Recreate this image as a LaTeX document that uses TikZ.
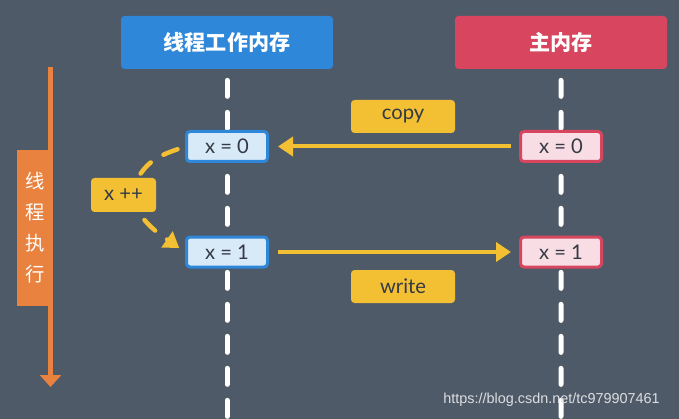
\documentclass[tikz,border=0pt]{standalone}
\usepackage{fontspec}
\setmainfont{Noto Sans CJK SC}
\newfontfamily\latinfont{Lato}
\newfontfamily\markfont{Liberation Sans}
\usetikzlibrary{arrows.meta,calc,positioning,backgrounds}
\definecolor{slate}{HTML}{4F5A69}
\definecolor{memblue}{HTML}{2E87D8}
\definecolor{valblue}{HTML}{D8E9F8}
\definecolor{memred}{HTML}{D8455E}
\definecolor{valred}{HTML}{F8DEE4}
\definecolor{tagyellow}{HTML}{F3BF33}
\definecolor{runorange}{HTML}{E8823E}
\definecolor{ink}{HTML}{343A44}
\tikzstyle{head} = [rectangle, rounded corners=2pt, minimum height=1.06cm, minimum width=4.24cm,
	text=white, font=\fontsize{12}{14}\selectfont\bfseries]
\tikzstyle{wval} = [rectangle, rounded corners=2pt, draw=memblue, line width=0.06cm, fill=valblue,
	minimum height=0.6cm, minimum width=1.62cm, text=ink, font=\latinfont\fontsize{11.5}{13}\selectfont]
\tikzstyle{mval} = [wval, draw=memred, fill=valred]
\tikzstyle{tag} = [rectangle, rounded corners=2pt, fill=tagyellow, minimum height=0.66cm,
	minimum width=2.08cm, text=ink, font=\latinfont\fontsize{11.5}{13}\selectfont]
\tikzstyle{run} = [rectangle, fill=runorange, minimum height=3.12cm, minimum width=0.72cm,
	align=center, text=white, font=\fontsize{11}{17.6}\selectfont]
\tikzstyle{lifeline} = [white, line width=0.1cm, line cap=round, dash pattern=on 0.32cm off 0.32cm]
\tikzstyle{sync} = [tagyellow, line width=0.08cm]
\tikzstyle{incline} = [tagyellow, line width=0.09cm, line cap=round, dash pattern=on 0.3cm off 0.3cm]

\begin{document}
\begin{tikzpicture}[auto, node distance=2cm, >={Triangle[length=0.3cm,width=0.38cm]}]
	\useasboundingbox (0,0) rectangle (13.58,-8.38);
	\node [head, fill=memblue] (work) at (4.54,-0.85) {线程工作内存};
	\node [head, fill=memred, right of=work, xshift=4.68cm] (main) {主内存};
	\node [wval, below of=work, yshift=-0.08cm] (w0) {x = 0};
	\node [wval, below of=w0, yshift=-0.11cm] (w1) {x = 1};
	\node [mval, below of=main, yshift=-0.08cm] (m0) {x = 0};
	\node [mval, below of=m0, yshift=-0.11cm] (m1) {x = 1};
	\node [tag] (copy) at (8.06,-2.33) {copy};
	\node [tag, below of=copy, yshift=-1.4cm] (write) {write};
	\node [tag, minimum width=1.3cm, minimum height=0.68cm] (inc) at (2.47,-3.9) {x ++};
	\node [run] (thread) at (0.7,-4.56) {线\\程\\执\\行};
	\coordinate (flowtop) at (1.01,-1.34);
	\coordinate (flowend) at (1.01,-7.74);
	\coordinate (workend) at (4.54,-8.45);
	\coordinate (mainend) at (11.22,-8.45);

	\draw[sync, ->, shorten <=0.16cm, shorten >=0.18cm] (m0.west) -- (w0.east);
	\draw[sync, ->, shorten <=0.18cm, shorten >=0.16cm] (w1.east) -- (m1.west);
	\draw[incline, shorten <=0.16cm] (w0.west) to[out=200, in=60] (inc.50);
	\draw[incline, ->, shorten <=0.2cm, shorten >=0.14cm] (inc.-50) to[out=-50, in=145] (w1.west);
	\draw[runorange, line width=0.1cm, -{Triangle[length=0.24cm,width=0.42cm]}] (flowtop) -- (flowend);

	\node [text=white!80!slate, font=\markfont\fontsize{8.2}{10}\selectfont] (mark) at (11.03,-8.0) {https://blog.csdn.net/tc979907461};

	\begin{pgfonlayer}{background}
		\fill [slate] (0,0) rectangle (13.58,-8.38);
		\draw [lifeline, shorten <=0.22cm] (work.south) -- (workend);
		\draw [lifeline, shorten <=0.22cm] (main.south) -- (mainend);
	\end{pgfonlayer}

\end{tikzpicture}
\end{document}
